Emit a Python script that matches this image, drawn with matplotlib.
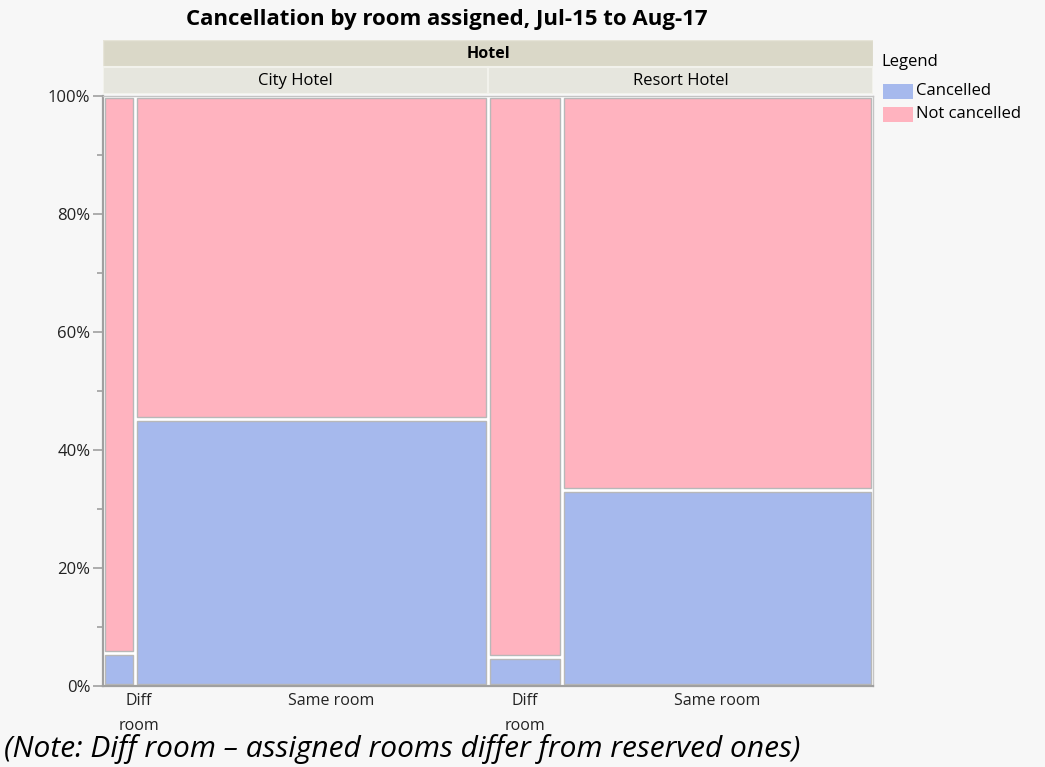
import matplotlib
matplotlib.use('Agg')
import matplotlib.pyplot as plt
from matplotlib.patches import Rectangle

# Mosaic data
hotels = ['City Hotel', 'Resort Hotel']
room_groups = ['Diff\nroom', 'Same room']
# share of bookings per room group within each hotel (x widths)
group_share = {'City Hotel': [0.082, 0.918], 'Resort Hotel': [0.192, 0.808]}
# cancelled share within each room group (blue part, from bottom)
cancelled_share = {'City Hotel': [0.056, 0.453], 'Resort Hotel': [0.049, 0.333]}
legend_labels = ['Cancelled', 'Not cancelled']
y_ticks = [0, 0.2, 0.4, 0.6, 0.8, 1.0]

colors = ['#a6b9ed', '#ffb3bf']  # blue, pink
bg = '#f7f7f7'
W, H = 1045, 767
fs = 12

plt.rcParams['font.family'] = ['Open Sans', 'DejaVu Sans']

fig = plt.figure(figsize=(W / 100, H / 100), dpi=100, facecolor=bg)


def fx(px):
    return px / W


def fy(py):
    return 1 - py / H


# main mosaic axes
left, right, top, bottom = 103, 873, 96, 686
ax = fig.add_axes([fx(left), fy(bottom), fx(right - left), fy(top) - fy(bottom)])
ax.set_facecolor('white')
ax.set_xlim(0, 1)
ax.set_ylim(0, 1)

gx = 2 / (right - left)
gy = 2 / (bottom - top)
panel_w = 1 / len(hotels)
label_shift = {'City Hotel': 20 / (right - left), 'Resort Hotel': 0}

for i, hotel in enumerate(hotels):
    x = i * panel_w
    for j, grp in enumerate(room_groups):
        w = group_share[hotel][j] * panel_w
        c = cancelled_share[hotel][j]
        parts = [(0, c, colors[0]), (c, 1 - c, colors[1])]
        for y0, h, col in parts:
            ax.add_patch(Rectangle((x + gx, y0 + gy), w - 2 * gx, h - 2 * gy,
                                   facecolor=col, edgecolor='#b8b8b8', lw=1))
        ax.text(x + w / 2 + label_shift[hotel], -0.012, grp, ha='center', va='top',
                fontsize=fs - 0.5, color='#222222', linespacing=1.75,
                transform=ax.transData, clip_on=False)
        x += w

ax.set_xticks([])
ax.set_yticks(y_ticks)
ax.set_yticklabels(['{:.0f}%'.format(t * 100) for t in y_ticks])
ax.set_yticks([0.1, 0.3, 0.5, 0.7, 0.9], minor=True)
ax.tick_params(axis='y', which='major', length=7, width=1.2, color='#a0a0a0',
               pad=2, labelsize=fs, labelcolor='#222222')
ax.tick_params(axis='y', which='minor', length=4.5, width=1.2, color='#a0a0a0')
for s in ['left', 'bottom']:
    ax.spines[s].set_color('#a0a0a0')
    ax.spines[s].set_linewidth(1.6)
for s in ['right', 'top']:
    ax.spines[s].set_color('#c4c4c4')
    ax.spines[s].set_linewidth(1)

# header strips
hax = fig.add_axes([fx(left), fy(94), fx(right - left), fy(40) - fy(94)])
hax.set_xlim(0, 1)
hax.set_ylim(0, 2)
hax.axis('off')
hax.add_patch(Rectangle((0, 1), 1, 1, facecolor='#dad8c8', edgecolor='#e6e4d8', lw=1))
hax.text(0.5, 1.5, 'Hotel', ha='center', va='center', fontsize=fs - 0.5, fontweight='bold')
for i, hotel in enumerate(hotels):
    hax.add_patch(Rectangle((i * panel_w, 0), panel_w, 1, facecolor='#e6e6de',
                            edgecolor='#f2f2ec', lw=1.5))
    hax.text(i * panel_w + panel_w / 2, 0.48, hotel, ha='center', va='center', fontsize=fs)

# title
fig.text(fx(447), fy(20), 'Cancellation by room assigned, Jul-15 to Aug-17',
         ha='center', va='center', fontsize=16, fontweight='bold')

# legend
fig.text(fx(881), fy(62), 'Legend', ha='left', va='center', fontsize=fs)
for k, lab in enumerate(legend_labels):
    yc = 91 + k * 23
    fig.patches.append(Rectangle((fx(883), fy(yc + 8)), fx(30), fy(yc - 7) - fy(yc + 8),
                                 facecolor=colors[k], edgecolor='none',
                                 transform=fig.transFigure))
    fig.text(fx(916), fy(yc), lab, ha='left', va='center', fontsize=fs)

# note
fig.text(fx(4), fy(764), '(Note: Diff room \u2013 assigned rooms differ from reserved ones)',
         ha='left', va='bottom', fontsize=21.5, style='italic')

fig.savefig('out.png', dpi=100, facecolor=bg)
